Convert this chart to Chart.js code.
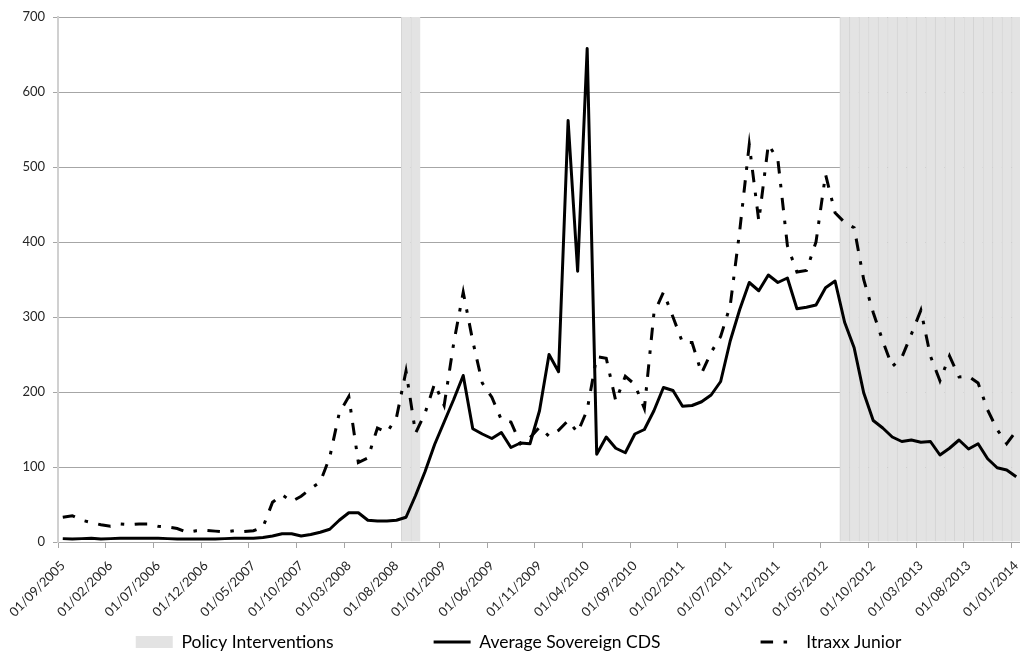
<!DOCTYPE html>
<html>
<head>
<meta charset="utf-8">
<script src="https://cdn.jsdelivr.net/npm/chart.js@4.4.0/dist/chart.umd.min.js"></script>
<style>
html,body{margin:0;padding:0;background:#ffffff;overflow:hidden;width:1020px;height:656px;}
#wrap{width:1022px;height:656px;}
</style>
</head>
<body>
<div id="wrap"><canvas id="chart" width="1022" height="656"></canvas></div>
<script>
// Categories: monthly observations
const months = [
  '01/09/2005','01/10/2005','01/11/2005','01/12/2005',
  '01/01/2006','01/02/2006','01/03/2006','01/04/2006','01/05/2006','01/06/2006','01/07/2006','01/08/2006','01/09/2006','01/10/2006','01/11/2006','01/12/2006',
  '01/01/2007','01/02/2007','01/03/2007','01/04/2007','01/05/2007','01/06/2007','01/07/2007','01/08/2007','01/09/2007','01/10/2007','01/11/2007','01/12/2007',
  '01/01/2008','01/02/2008','01/03/2008','01/04/2008','01/05/2008','01/06/2008','01/07/2008','01/08/2008','01/09/2008','01/10/2008','01/11/2008','01/12/2008',
  '01/01/2009','01/02/2009','01/03/2009','01/04/2009','01/05/2009','01/06/2009','01/07/2009','01/08/2009','01/09/2009','01/10/2009','01/11/2009','01/12/2009',
  '01/01/2010','01/02/2010','01/03/2010','01/04/2010','01/05/2010','01/06/2010','01/07/2010','01/08/2010','01/09/2010','01/10/2010','01/11/2010','01/12/2010',
  '01/01/2011','01/02/2011','01/03/2011','01/04/2011','01/05/2011','01/06/2011','01/07/2011','01/08/2011','01/09/2011','01/10/2011','01/11/2011','01/12/2011',
  '01/01/2012','01/02/2012','01/03/2012','01/04/2012','01/05/2012','01/06/2012','01/07/2012','01/08/2012','01/09/2012','01/10/2012','01/11/2012','01/12/2012',
  '01/01/2013','01/02/2013','01/03/2013','01/04/2013','01/05/2013','01/06/2013','01/07/2013','01/08/2013','01/09/2013','01/10/2013','01/11/2013','01/12/2013',
  '01/01/2014'
];

// Average Sovereign CDS
const sovereignCDS = [
  4.5, 4, 4.5, 5,
  4, 4.5, 5, 5, 5, 5, 5, 4.5, 4, 4, 4, 4,
  4, 4.5, 5, 5, 5, 6, 8, 11, 11, 8, 10, 13,
  17, 29, 39, 39, 29, 28, 28, 29, 33, 62, 94, 130,
  160, 190, 222, 151, 144, 138, 146, 126, 132, 131, 175, 250,
  227, 562, 361, 658, 117, 140, 125, 119, 144, 150, 175, 206,
  202, 181, 182, 187, 196, 214, 268, 310, 346, 335, 356, 346,
  352, 311, 313, 316, 339, 348, 293, 259, 199, 162, 152, 140,
  134, 136, 133, 134, 116, 125, 136, 124, 131, 111, 99, 96,
  87
];

// Itraxx Junior
const itraxxJunior = [
  33, 35, 29, 26,
  23, 21, 24, 23, 24, 24, 21, 20, 18, 13, 15, 15.5,
  14.5, 13.5, 15, 14, 15, 20, 53, 63, 54, 61, 71, 80,
  113, 172, 194, 106, 112, 152, 146, 166, 228, 145, 172, 211,
  182, 265, 333, 268, 212, 193, 163, 160, 131, 139, 153, 141,
  149, 162, 146, 176, 247, 245, 188, 221, 210, 178, 305, 333,
  300, 266, 266, 225, 253, 274, 315, 415, 530, 428, 530, 510,
  395, 360, 362, 400, 490, 439, 426, 419, 350, 306, 268, 234,
  246, 277, 309, 248, 215, 248, 220, 221, 212, 176, 150, 131,
  148
];

// Policy interventions (shaded months, full height of the axis)
const policyInterventions = [
  null, null, null, null,
  null, null, null, null, null, null, null, null, null, null, null, null,
  null, null, null, null, null, null, null, null, null, null, null, null,
  null, null, null, null, null, null, null, null, 700, 700, null, null,
  null, null, null, null, null, null, null, null, null, null, null, null,
  null, null, null, null, null, null, null, null, null, null, null, null,
  null, null, null, null, null, null, null, null, null, null, null, null,
  null, null, null, null, null, null, 700, 700, 700, 700, 700, 700,
  700, 700, 700, 700, 700, 700, 700, 700, 700, 700, 700, 700,
  700
];

const seriesLabels = ['Policy Interventions', 'Average Sovereign CDS', 'Itraxx Junior'];
const yTickValues = [0, 100, 200, 300, 400, 500, 600, 700];
const labelEvery = 5;

Chart.defaults.font.family = 'Lato, "Open Sans", sans-serif';
Chart.defaults.color = '#262626';

const itraxxDash = [12.5, 10.5, 3.5, 10.5];

new Chart(document.getElementById('chart'), {
  type: 'bar',
  data: {
    labels: months,
    datasets: [
      {
        type: 'bar',
        label: seriesLabels[0],
        data: policyInterventions,
        backgroundColor: '#e3e3e3',
        borderColor: '#d4d4d4',
        borderWidth: {left: 1, right: 0, top: 0, bottom: 0},
        borderSkipped: false,
        barPercentage: 1,
        categoryPercentage: 1,
        order: 3
      },
      {
        type: 'line',
        label: seriesLabels[1],
        data: sovereignCDS,
        borderColor: '#000000',
        backgroundColor: '#000000',
        borderWidth: 3,
        borderJoinStyle: 'round',
        pointRadius: 0,
        tension: 0,
        fill: false,
        order: 1
      },
      {
        type: 'line',
        label: seriesLabels[2],
        data: itraxxJunior,
        borderColor: '#000000',
        backgroundColor: '#000000',
        borderWidth: 3,
        borderDash: itraxxDash,
        borderCapStyle: 'butt',
        pointRadius: 0,
        tension: 0,
        fill: false,
        order: 2
      }
    ]
  },
  options: {
    responsive: false,
    animation: false,
    devicePixelRatio: 1,
    layout: {padding: {left: 16, top: 17, right: 1, bottom: 0}},
    scales: {
      x: {
        offset: true,
        afterFit: (scale) => { scale.paddingLeft = 0; scale.paddingRight = 0; scale.height = 80; },
        grid: {
          offset: true,
          drawOnChartArea: false,
          drawTicks: true,
          tickLength: 6,
          lineWidth: 1,
          color: (ctx) => (ctx.index % labelEvery === 0 ? '#a6a6a6' : 'rgba(0,0,0,0)')
        },
        border: {display: true, color: '#a6a6a6', width: 1},
        ticks: {
          autoSkip: false,
          minRotation: 45,
          maxRotation: 45,
          padding: 10,
          color: '#262626',
          font: {size: 13},
          callback: (value, index) => (index % labelEvery === 0 ? months[index] : '')
        }
      },
      y: {
        min: yTickValues[0],
        max: yTickValues[yTickValues.length - 1],
        afterBuildTicks: (scale) => { scale.ticks = yTickValues.map(v => ({value: v})); },
        afterFit: (scale) => { scale.width = 42; scale.paddingTop = 0; scale.paddingBottom = 0; },
        grid: {color: '#a6a6a6', lineWidth: 1, drawTicks: true, tickLength: 5},
        border: {display: true, color: '#d0d0d0', width: 2},
        ticks: {color: '#262626', font: {size: 13}, padding: 8}
      }
    },
    plugins: {
      tooltip: {enabled: false},
      legend: {
        display: true,
        position: 'bottom',
        maxHeight: 34,
        title: {display: true, text: '', font: {size: 12}, padding: {top: 0, bottom: -103.15}},
        labels: {
          usePointStyle: true,
          pointStyleWidth: 37,
          boxHeight: 12,
          padding: 100,
          color: '#000000',
          font: {size: 17.5},
          generateLabels: (chart) => chart.data.datasets.map((ds, i) => ({
            text: ds.label,
            datasetIndex: i,
            hidden: false,
            fontColor: '#000000',
            fillStyle: ds.type === 'bar' ? ds.backgroundColor : 'rgba(0,0,0,0)',
            strokeStyle: ds.type === 'bar' ? 'rgba(0,0,0,0)' : ds.borderColor,
            lineWidth: ds.type === 'bar' ? 0 : 3,
            lineDash: ds.borderDash || [],
            lineCap: 'butt',
            pointStyle: ds.type === 'bar' ? 'rect' : 'line'
          }))
        }
      }
    }
  }
});
</script>
</body>
</html>
